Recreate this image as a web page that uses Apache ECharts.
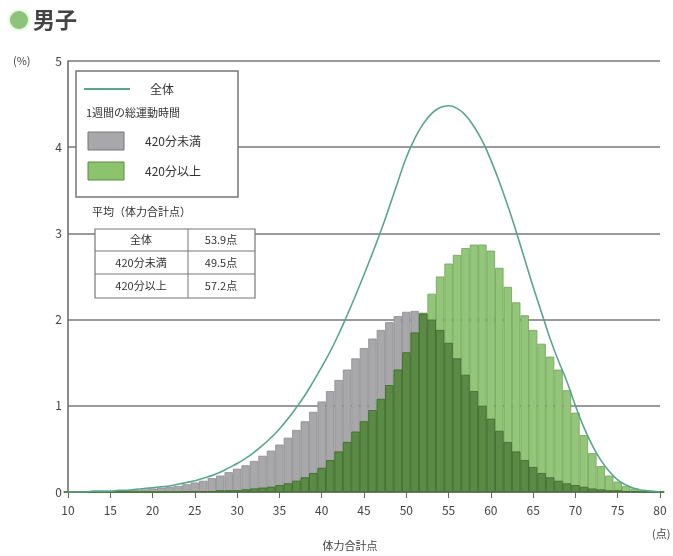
<!DOCTYPE html>
<html><head><meta charset="utf-8">
<script src="https://cdn.jsdelivr.net/npm/echarts@6/dist/echarts.min.js"></script>
<style>html,body{margin:0;padding:0;background:#fff}#c{width:673px;height:556px}</style>
</head><body><div id="c"></div>
<script>
const scores = [10,11,12,13,14,15,16,17,18,19,20,21,22,23,24,25,26,27,28,29,30,31,32,33,34,35,36,37,38,39,40,41,42,43,44,45,46,47,48,49,50,51,52,53,54,55,56,57,58,59,60,61,62,63,64,65,66,67,68,69,70,71,72,73,74,75,76,77,78,79,80];
const under420 = [0,0,0,0.01,0.01,0.01,0.01,0.02,0.02,0.03,
 0.04,0.05,0.06,0.07,0.09,0.11,0.13,0.16,0.19,0.23,
 0.27,0.31,0.36,0.42,0.48,0.55,0.63,0.72,0.82,0.93,
 1.05,1.17,1.3,1.42,1.55,1.67,1.78,1.88,1.97,2.04,
 2.09,2.1,2.07,2.0,1.88,1.73,1.55,1.36,1.17,1.0,
 0.85,0.71,0.58,0.47,0.37,0.29,0.22,0.17,0.13,0.1,
 0.08,0.06,0.04,0.03,0.02,0.02,0.01,0.01,0,0,0];
const over420 = [0,0,0,0,0,0,0,0,0,0,
 0,0,0,0,0.01,0.01,0.01,0.01,0.02,0.02,
 0.02,0.03,0.04,0.05,0.06,0.08,0.1,0.13,0.17,0.22,
 0.28,0.37,0.47,0.58,0.7,0.82,0.95,1.08,1.24,1.42,
 1.62,1.85,2.08,2.3,2.5,2.65,2.75,2.83,2.87,2.87,
 2.8,2.6,2.38,2.2,2.05,1.88,1.72,1.57,1.42,1.18,
 0.92,0.66,0.45,0.3,0.19,0.12,0.07,0.04,0.02,0.01,0];
const total = [0,0,0,0.01,0.01,0.01,0.02,0.02,0.03,0.04,
 0.05,0.06,0.07,0.09,0.11,0.13,0.16,0.19,0.23,0.28,
 0.33,0.39,0.46,0.54,0.63,0.73,0.85,0.98,1.12,1.28,
 1.45,1.63,1.83,2.05,2.28,2.52,2.77,3.03,3.31,3.6,
 3.88,4.1,4.27,4.39,4.46,4.48,4.45,4.37,4.24,4.07,
 3.85,3.6,3.32,3.02,2.7,2.38,2.08,1.78,1.52,1.28,
 1.0,0.75,0.54,0.37,0.24,0.14,0.08,0.04,0.02,0.01,0];
const tableRows = ["全体","420分未満","420分以上"];
const tableVals = ["53.9点","49.5点","57.2点"];

const pair = arr => scores.map((s,i)=>[s,arr[i]]);
const overlap = scores.map((s,i)=>[s,Math.min(under420[i],over420[i])]);

const F = '"Noto Sans CJK JP","Noto Sans",sans-serif';
const LINE = '#5aa590';
const chart = echarts.init(document.getElementById('c'));
const g = [];
g.push({type:'circle',shape:{cx:19,cy:20,r:9},style:{fill:'#8cc47a',shadowBlur:4,shadowColor:'#b8e0a8'}});
g.push({type:'text',x:33,y:20,style:{text:'男子',font:'bold 22px '+F,fill:'#444',verticalAlign:'middle'}});
g.push({type:'text',x:13,y:61,style:{text:'(%)',font:'11px '+F,fill:'#444',verticalAlign:'middle'}});
g.push({type:'text',x:652,y:534,style:{text:'(点)',font:'11px '+F,fill:'#444',verticalAlign:'middle'}});
g.push({type:'text',x:350,y:546,style:{text:'体力合計点',font:'11px '+F,fill:'#444',align:'center',verticalAlign:'middle'}});
// legend box
g.push({type:'rect',shape:{x:76,y:71,width:162,height:126},style:{fill:'#fff',stroke:'#777',lineWidth:1.5},z:10});
g.push({type:'line',shape:{x1:84,y1:89,x2:130,y2:89},style:{stroke:LINE,lineWidth:2},z:11});
g.push({type:'text',x:150,y:89,style:{text:'全体',font:'12px '+F,fill:'#333',verticalAlign:'middle'},z:11});
g.push({type:'text',x:86,y:113,style:{text:'1週間の総運動時間',font:'11px '+F,fill:'#333',verticalAlign:'middle'},z:11});
g.push({type:'rect',shape:{x:88,y:132,width:36,height:18},style:{fill:'#a8a8ab',stroke:'#777',lineWidth:1},z:11});
g.push({type:'text',x:145,y:141,style:{text:'420分未満',font:'12px '+F,fill:'#333',verticalAlign:'middle'},z:11});
g.push({type:'rect',shape:{x:88,y:162,width:36,height:18},style:{fill:'#8cc46e',stroke:'#5a8a45',lineWidth:1},z:11});
g.push({type:'text',x:145,y:171,style:{text:'420分以上',font:'12px '+F,fill:'#333',verticalAlign:'middle'},z:11});
// table
g.push({type:'text',x:92,y:212,style:{text:'平均（体力合計点）',font:'11px '+F,fill:'#333',verticalAlign:'middle'},z:11});
g.push({type:'rect',shape:{x:95,y:229,width:160,height:69},style:{fill:'#fff',stroke:'#777',lineWidth:1.2},z:10});
g.push({type:'line',shape:{x1:95,y1:251,x2:255,y2:251},style:{stroke:'#777',lineWidth:1},z:11});
g.push({type:'line',shape:{x1:95,y1:274,x2:255,y2:274},style:{stroke:'#777',lineWidth:1},z:11});
g.push({type:'line',shape:{x1:188,y1:229,x2:188,y2:298},style:{stroke:'#777',lineWidth:1},z:11});
const rowY=[240,262.5,286];
tableRows.forEach((r,i)=>{
  g.push({type:'text',x:141,y:rowY[i],style:{text:r,font:'11px '+F,fill:'#333',align:'center',verticalAlign:'middle'},z:11});
  g.push({type:'text',x:221,y:rowY[i],style:{text:tableVals[i],font:'11px '+F,fill:'#333',align:'center',verticalAlign:'middle'},z:11});
});

chart.setOption({
  animation:false,
  grid:{left:68,right:13,top:61,bottom:64},
  xAxis:{type:'value',min:10,max:80,interval:5,
    axisLine:{lineStyle:{color:'#666',width:1.5}},
    axisTick:{show:true,length:6,lineStyle:{color:'#666'}},
    axisLabel:{color:'#444',fontSize:12,margin:12,fontFamily:F},
    splitLine:{show:false}},
  yAxis:{type:'value',min:0,max:5,interval:1,
    axisLine:{show:true,lineStyle:{color:'#666',width:1.5}},
    axisTick:{show:false},
    axisLabel:{color:'#444',fontSize:12,margin:6,fontFamily:F},
    splitLine:{lineStyle:{color:'#9a9a9a',width:2}}},
  series:[
    {name:'420分未満',type:'bar',data:pair(under420),barWidth:8.4,barGap:'-100%',
      itemStyle:{color:'#a8a8ab',borderColor:'#8c8c90',borderWidth:0.8}},
    {name:'420分以上',type:'bar',data:pair(over420),barWidth:8.4,barGap:'-100%',
      itemStyle:{color:'#93c57a',borderColor:'#6ea456',borderWidth:0.8}},
    {name:'重なり',type:'bar',data:overlap,barWidth:8.4,barGap:'-100%',
      itemStyle:{color:'#5b8a45',borderColor:'#3f6a30',borderWidth:0.8}},
    {name:'全体',type:'line',data:pair(total),smooth:true,showSymbol:false,z:5,
      lineStyle:{color:LINE,width:1.6}}
  ],
  graphic:g
});
</script></body></html>
